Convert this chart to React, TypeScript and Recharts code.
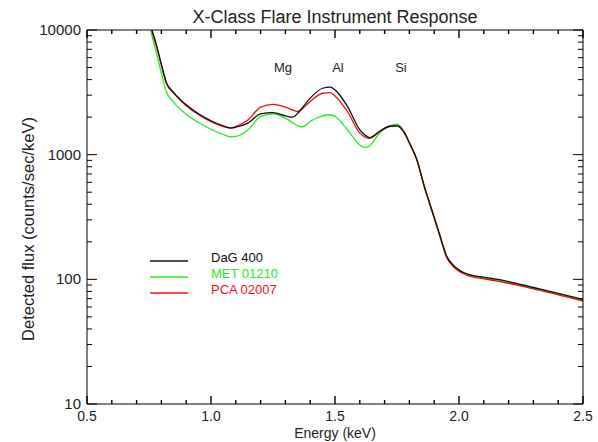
import React from 'react';
import * as Recharts from 'recharts';
import { LineChart, Line, XAxis, YAxis, Legend, ReferenceDot, Customized } from 'recharts';

const energy = [0.74, 0.76, 0.78, 0.8, 0.82, 0.85, 0.9, 0.95, 1.0, 1.05, 1.08, 1.1, 1.15, 1.2, 1.25, 1.3, 1.33, 1.35, 1.37, 1.4, 1.45, 1.48, 1.5, 1.55, 1.6, 1.62, 1.64, 1.68, 1.72, 1.75, 1.78, 1.8, 1.83, 1.86, 1.89, 1.92, 1.95, 1.98, 2.0, 2.05, 2.1, 2.2, 2.3, 2.4, 2.5];
const dag = [14600, 10300, 7600, 5300, 3800, 3150, 2510, 2130, 1870, 1700, 1640, 1660, 1800, 2120, 2170, 2050, 2000, 2150, 2400, 2840, 3410, 3480, 3310, 2440, 1585, 1440, 1370, 1540, 1690, 1700, 1490, 1240, 912, 558, 363, 236, 154, 128, 119, 108, 104, 96, 86, 77, 69];
const met = [13000, 9300, 6500, 4500, 3200, 2630, 2110, 1810, 1600, 1450, 1390, 1400, 1585, 2030, 2130, 1965, 1800, 1705, 1675, 1850, 2050, 2090, 2030, 1585, 1200, 1140, 1180, 1490, 1705, 1760, 1520, 1250, 915, 560, 360, 234, 153, 127, 118, 107, 103, 95, 85, 76, 68];
const pca = [14400, 10100, 7400, 5200, 3720, 3100, 2470, 2090, 1840, 1680, 1630, 1680, 1905, 2410, 2530, 2410, 2280, 2220, 2350, 2670, 3110, 3150, 2960, 2220, 1490, 1390, 1350, 1530, 1680, 1710, 1500, 1245, 905, 552, 358, 232, 150, 125, 116, 105, 101, 93, 84, 75, 67];

const seriesNames = ['DaG 400', 'MET 01210', 'PCA 02007'];
const seriesColors = ['#111111', '#22ee22', '#ee1111'];

const xTicks = [0.5, 0.6, 0.7, 0.8, 0.9, 1.0, 1.1, 1.2, 1.3, 1.4, 1.5, 1.6, 1.7, 1.8, 1.9, 2.0, 2.1, 2.2, 2.3, 2.4, 2.5];
const xMajor = [0.5, 1.0, 1.5, 2.0, 2.5];
const yTicks = [10, 20, 30, 40, 50, 60, 70, 80, 90, 100, 200, 300, 400, 500, 600, 700, 800, 900, 1000, 2000, 3000, 4000, 5000, 6000, 7000, 8000, 9000, 10000];
const yMajor = [10, 100, 1000, 10000];

const elementNames = ['Mg', 'Al', 'Si'];
const elementEnergy = [1.29, 1.512, 1.766];
const elementLevel = 5000;

const data = energy.map((e, i) => ({ e, dag: dag[i], met: met[i], pca: pca[i] }));

const FONT = '"Liberation Sans", Arial, sans-serif';
const INK = '#222';

const isMajorX = (v: number) => xMajor.some((m) => Math.abs(m - v) < 1e-6);
const isMajorY = (v: number) => yMajor.some((m) => Math.abs(m - v) < 1e-6);

const R: any = Recharts;
const usePlotAreaSafe: () => any = R.usePlotArea || (() => null);

const XTick = (props: any) => {
  const { x, y, payload } = props;
  const area = usePlotAreaSafe();
  const major = isMajorX(payload.value);
  const len = major ? 8 : 4;
  const top = area ? area.y : null;
  return (
    <g>
      <rect x={x - 0.7} y={y - len} width={1.4} height={len} fill="#000" stroke="none" />
      {top !== null && <rect x={x - 0.7} y={top} width={1.4} height={len} fill="#000" stroke="none" />}
      {major && (
        <text x={x} y={y + 17} textAnchor="middle" fontFamily={FONT} fontSize={14} fill={INK}>
          {payload.value.toFixed(1)}
        </text>
      )}
    </g>
  );
};

const YTick = (props: any) => {
  const { x, y, payload, side } = props;
  const major = isMajorY(payload.value);
  const len = major ? 10 : 5;
  if (side === 'right') {
    return <line x1={x} y1={y} x2={x - len} y2={y} stroke="#000" strokeWidth={1} />;
  }
  return (
    <g>
      <line x1={x} y1={y} x2={x + len} y2={y} stroke="#000" strokeWidth={1} />
      {major && (
        <text x={x - 6} y={y + 5} textAnchor="end" fontFamily={FONT} fontSize={15} fill={INK}>
          {String(payload.value)}
        </text>
      )}
    </g>
  );
};

const LegendContent = (props: any) => {
  const items = [...(props.payload || [])].sort(
    (a: any, b: any) => seriesNames.indexOf(a.value) - seriesNames.indexOf(b.value)
  );
  return (
    <div style={{ fontFamily: FONT, fontSize: 13 }}>
      {items.map((it: any) => (
        <div key={it.value} style={{ display: 'flex', alignItems: 'center', height: 16 }}>
          <svg width={61} height={16} style={{ display: 'block' }}>
            <line x1={0} y1={11} x2={38} y2={11} stroke={it.color} strokeWidth={1.5} />
          </svg>
          <span style={{ color: it.color, lineHeight: '16px', whiteSpace: 'nowrap' }}>{it.value}</span>
        </div>
      ))}
    </div>
  );
};

const Texts = () => (
  <g fontFamily={FONT} fill={INK}>
    <text x={335} y={23} textAnchor="middle" fontSize={18}>X-Class Flare Instrument Response</text>
    <text x={335} y={438} textAnchor="middle" fontSize={14}>Energy (keV)</text>
    <text x={28} y={229} textAnchor="middle" dominantBaseline="central" fontSize={16.5} transform="rotate(-90, 28, 229)">
      Detected flux (counts/sec/keV)
    </text>
  </g>
);

const TopBorder = () => {
  const area = usePlotAreaSafe();
  if (!area) return null;
  return <line x1={area.x} y1={area.y} x2={area.x + area.width} y2={area.y} stroke="#000" strokeWidth={1} />;
};

export default function App() {
  return (
    <div style={{ position: 'absolute', left: 0, top: 0, background: '#fff' }}>
      <LineChart width={598} height={442} data={data} margin={{ top: 30, right: 14, bottom: 0, left: 0 }}>
        <XAxis
          dataKey="e"
          type="number"
          domain={[0.5, 2.5]}
          ticks={xTicks}
          interval={0}
          height={38}
          tickSize={0}
          tickMargin={0}
          tickLine={false}
          axisLine={{ stroke: '#000' }}
          tick={<XTick />}
          allowDataOverflow
        />
        <YAxis
          type="number"
          scale="log"
          domain={[10, 10000]}
          ticks={yTicks}
          interval={0}
          width={87}
          tickSize={0}
          tickMargin={0}
          tickLine={false}
          axisLine={{ stroke: '#000' }}
          tick={<YTick side="left" />}
          allowDataOverflow
        />
        <YAxis
          yAxisId="right"
          orientation="right"
          type="number"
          scale="log"
          domain={[10, 10000]}
          ticks={yTicks}
          interval={0}
          width={1}
          tickSize={0}
          tickMargin={0}
          tickLine={false}
          axisLine={{ stroke: '#000' }}
          tick={<YTick side="right" />}
          allowDataOverflow
        />
        <Line yAxisId="right" type="monotone" dataKey="met" name={seriesNames[1]} stroke={seriesColors[1]} strokeWidth={1.3} dot={false} isAnimationActive={false} />
        <Line type="monotone" dataKey="pca" name={seriesNames[2]} stroke={seriesColors[2]} strokeWidth={1.3} dot={false} isAnimationActive={false} />
        <Line type="monotone" dataKey="dag" name={seriesNames[0]} stroke={seriesColors[0]} strokeWidth={1.3} dot={false} isAnimationActive={false} />
        {elementNames.map((n, i) => (
          <ReferenceDot
            key={n}
            x={elementEnergy[i]}
            y={elementLevel}
            r={1}
            fill="none"
            stroke="none"
            label={{ value: n, position: 'center', fontSize: 13, fontFamily: FONT, fill: INK }}
          />
        ))}
        <Legend
          layout="vertical"
          align="center"
          verticalAlign="middle"
          content={<LegendContent />}
          wrapperStyle={{ left: 150, top: 250, width: 'auto', height: 'auto' }}
        />
        <Customized component={TopBorder} />
        <Customized component={Texts} />
      </LineChart>
    </div>
  );
}
